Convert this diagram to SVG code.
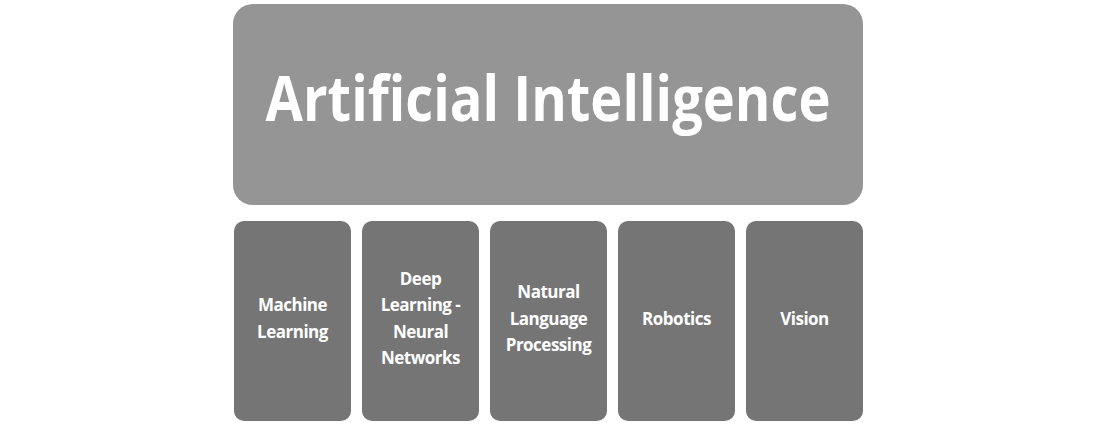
<svg xmlns="http://www.w3.org/2000/svg" width="1096" height="424" viewBox="0 0 1096 424">
<style>
.t{fill:#fff;font-family:"Open Sans","Liberation Sans",sans-serif;font-weight:bold;text-anchor:middle}
.s{font-size:17px;letter-spacing:-0.5px}
.b{fill:#757575}
</style>
<rect width="1096" height="424" fill="#fff"/>
<g id="ai"><rect x="233" y="4" width="630" height="201" rx="20" fill="#959595"/>
<text class="t" x="548" y="121" font-size="62" textLength="565" lengthAdjust="spacingAndGlyphs">Artificial Intelligence</text></g>
<g id="ml"><rect class="b" x="234" y="221" width="117" height="200" rx="10"/>
<text class="t s" x="292.5" y="311">Machine</text><text class="t s" x="292.5" y="338">Learning</text></g>
<g id="dl"><rect class="b" x="362" y="221" width="117" height="200" rx="10"/>
<text class="t s" x="420.5" y="285">Deep</text><text class="t s" x="420.5" y="311">Learning -</text><text class="t s" x="420.5" y="338">Neural</text><text class="t s" x="420.5" y="364">Networks</text></g>
<g id="nlp"><rect class="b" x="490" y="221" width="117" height="200" rx="10"/>
<text class="t s" x="548.5" y="298">Natural</text><text class="t s" x="548.5" y="325">Language</text><text class="t s" x="548.5" y="351">Processing</text></g>
<g id="rob"><rect class="b" x="618" y="221" width="117" height="200" rx="10"/>
<text class="t s" x="676.5" y="325">Robotics</text></g>
<g id="vis"><rect class="b" x="746" y="221" width="117" height="200" rx="10"/>
<text class="t s" x="804.5" y="325">Vision</text></g>
<g id="connectors"/>
</svg>
